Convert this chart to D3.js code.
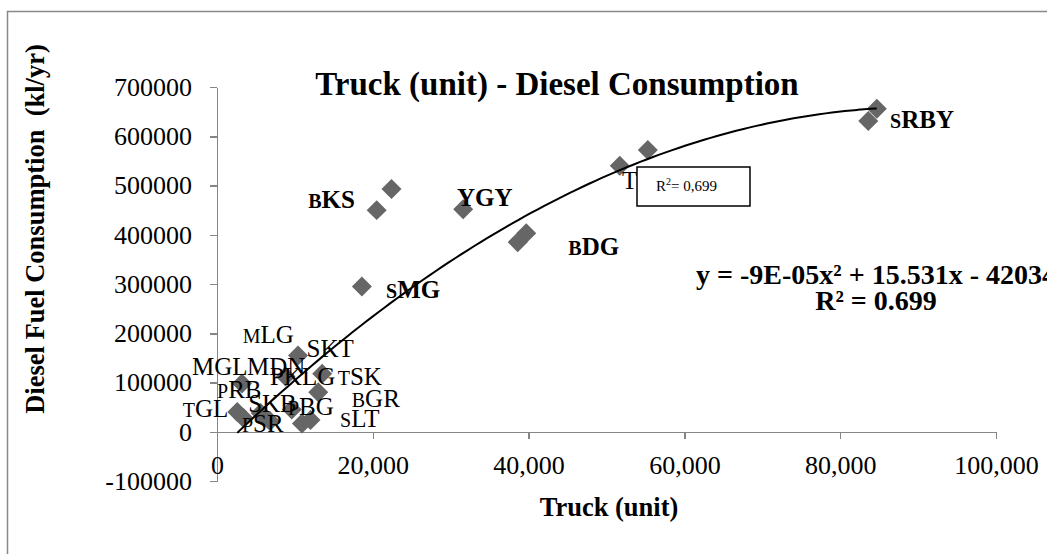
<!DOCTYPE html>
<html>
<head>
<meta charset="utf-8">
<title>Truck (unit) - Diesel Consumption</title>
<style>
body { margin: 0; background: #fff; }
svg text { font-family: "Liberation Serif", "Times New Roman", serif; fill: #000; }
.axis path, .axis line { fill: none; stroke: #868686; stroke-width: 1.5px; shape-rendering: crispEdges; }
.axis text { font-size: 26px; }
.title { font-size: 33px; font-weight: bold; }
.axis-title { font-size: 26.5px; font-weight: bold; white-space: pre; }
.dot { fill: #666; }
.trend { fill: none; stroke: #000; stroke-width: 2px; }
.lbl { font-size: 25px; }
.lbl.big { font-weight: bold; }
.eq { font-size: 28px; font-weight: bold; }
</style>
<script src="https://d3js.org/d3.v7.min.js"></script>
</head>
<body>
<script>
// city points: trucks (unit) vs diesel consumption (kl/yr)
var truckUnits = [84700, 83600, 51700, 55300, 22400, 20500, 31600, 38600, 39700, 18600,
                  10400, 8800, 13500, 3200, 2600, 3400, 5600, 6800, 9600, 10900, 12000, 13000];
var dieselKl   = [656000, 631000, 540000, 572000, 493000, 450000, 452000, 385000, 403000, 295000,
                  155000, 112000, 118000, 98000, 40000, 28000, 38000, 22000, 45000, 17000, 24000, 80000];

// data labels (anchored in data units, left/baseline)
var labelNames = ["SRBY", "TGR", "BKS", "YGY", "BDG", "SMG", "MLG", "SKT", "MGL", "MDN", "PKLG",
                  "TSK", "PRB", "BGR", "TGL", "SKB", "PBG", "SLT", "PSR"];
var labelX = [86400, 52000, 11700, 30800, 45100, 21700, 3300, 11500, -3200, 3850, 6800,
              15500, 0, 17300, -4400, 4000, 9100, 15800, 3200];
var labelY = [616000, 493000, 454000, 458000, 359000, 272000, 180000, 152000, 115000, 115000, 95000,
              95000, 68500, 50300, 30000, 40000, 34000, 9600, -500];
var boldLabels = ["SRBY", "BKS", "YGY", "BDG", "SMG"];
var smallFirst = ["SRBY", "BKS", "BDG", "SMG", "MLG", "TSK", "PRB", "BGR", "TGL", "PBG", "SLT", "PSR"];

var xTicks = [0, 20000, 40000, 60000, 80000, 100000];
var yTicks = [-100000, 0, 100000, 200000, 300000, 400000, 500000, 600000, 700000];

// polynomial trendline (order 2) as reported by the spreadsheet
var trendCoef = [-8.6e-5, 15.531, -42034];
var trendLabel = "y = -9E-05x² + 15.531x - 42034";
var r2Label = "R² = 0.699";
var r2Box = "0,699";

var W = 1047, H = 554;

var svg = d3.select("body").append("svg")
    .attr("width", W)
    .attr("height", H);

// chart frame
svg.append("rect")
    .attr("x", 7.5).attr("y", 11.5)
    .attr("width", 1200).attr("height", 700)
    .attr("fill", "#fff")
    .attr("stroke", "#888")
    .attr("stroke-width", 1.5);

var x = d3.scaleLinear().domain([0, 100000]).range([217, 996]);
var y = d3.scaleLinear().domain([-100000, 700000]).range([481, 87]);

svg.append("text")
    .attr("class", "title")
    .attr("x", 557).attr("y", 95)
    .attr("text-anchor", "middle")
    .text("Truck (unit) - Diesel Consumption");

var yAxis = svg.append("g")
    .attr("class", "axis")
    .attr("transform", "translate(" + x(0) + ",0)")
    .call(d3.axisLeft(y).tickValues(yTicks)
        .tickFormat(function(d) { return d < 0 ? "-" + Math.abs(d) : String(d); })
        .tickSizeInner(7).tickSizeOuter(0).tickPadding(18));

var xAxis = svg.append("g")
    .attr("class", "axis")
    .attr("transform", "translate(0," + y(0) + ")")
    .call(d3.axisBottom(x).tickValues(xTicks).tickFormat(d3.format(","))
        .tickSizeInner(7).tickSizeOuter(0).tickPadding(17));

svg.selectAll(".axis").attr("font-family", null).attr("font-size", null);

svg.append("text")
    .attr("class", "axis-title")
    .attr("transform", "translate(44,229) rotate(-90)")
    .attr("text-anchor", "middle")
    .text("Diesel Fuel Consumption  (kl/yr)");

svg.append("text")
    .attr("class", "axis-title")
    .attr("x", 609).attr("y", 516)
    .attr("text-anchor", "middle")
    .text("Truck (unit)");

// points
var pts = truckUnits.map(function(d, i) { return {x: d, y: dieselKl[i]}; });

svg.selectAll(".dot")
    .data(pts)
    .enter().append("path")
    .attr("class", "dot")
    .attr("d", d3.symbol().type(d3.symbolSquare).size(200))
    .attr("transform", function(d) {
        return "translate(" + x(d.x) + "," + y(d.y) + ") rotate(45)";
    });

// labels
var labels = labelNames.map(function(d, i) { return {name: d, x: labelX[i], y: labelY[i]}; });

var lbl = svg.selectAll(".lbl")
    .data(labels)
    .enter().append("text")
    .attr("class", function(d) { return boldLabels.indexOf(d.name) >= 0 ? "lbl big" : "lbl"; })
    .attr("x", function(d) { return x(d.x); })
    .attr("y", function(d) { return y(d.y); });

lbl.each(function(d) {
    var t = d3.select(this);
    if (smallFirst.indexOf(d.name) >= 0) {
        t.append("tspan").attr("font-size", "20px").text(d.name.charAt(0));
        t.append("tspan").text(d.name.slice(1));
    } else {
        t.text(d.name);
    }
});

// trendline
var xMin = d3.min(truckUnits), xMax = d3.max(truckUnits);
var trendPts = d3.range(0, 101).map(function(i) {
    var xv = xMin + (xMax - xMin) * i / 100;
    return [xv, trendCoef[0] * xv * xv + trendCoef[1] * xv + trendCoef[2]];
});

svg.append("path")
    .datum(trendPts)
    .attr("class", "trend")
    .attr("d", d3.line()
        .x(function(d) { return x(d[0]); })
        .y(function(d) { return y(d[1]); })
        .curve(d3.curveMonotoneX));

// small R2 box
var box = svg.append("g").attr("transform", "translate(637,167)");
box.append("rect")
    .attr("width", 113).attr("height", 39)
    .attr("fill", "#fff")
    .attr("stroke", "#000")
    .attr("stroke-width", 1.5);
var bt = box.append("text")
    .attr("x", 19).attr("y", 24)
    .attr("font-size", "15px");
bt.append("tspan").text("R");
bt.append("tspan").attr("dy", -6).attr("font-size", "10px").text("2");
bt.append("tspan").attr("dy", 6).text("= " + r2Box);

// equation
svg.append("text")
    .attr("class", "eq")
    .attr("x", 876).attr("y", 284)
    .attr("text-anchor", "middle")
    .text(trendLabel);

svg.append("text")
    .attr("class", "eq")
    .attr("x", 876).attr("y", 310)
    .attr("text-anchor", "middle")
    .text(r2Label);
</script>
</body>
</html>
